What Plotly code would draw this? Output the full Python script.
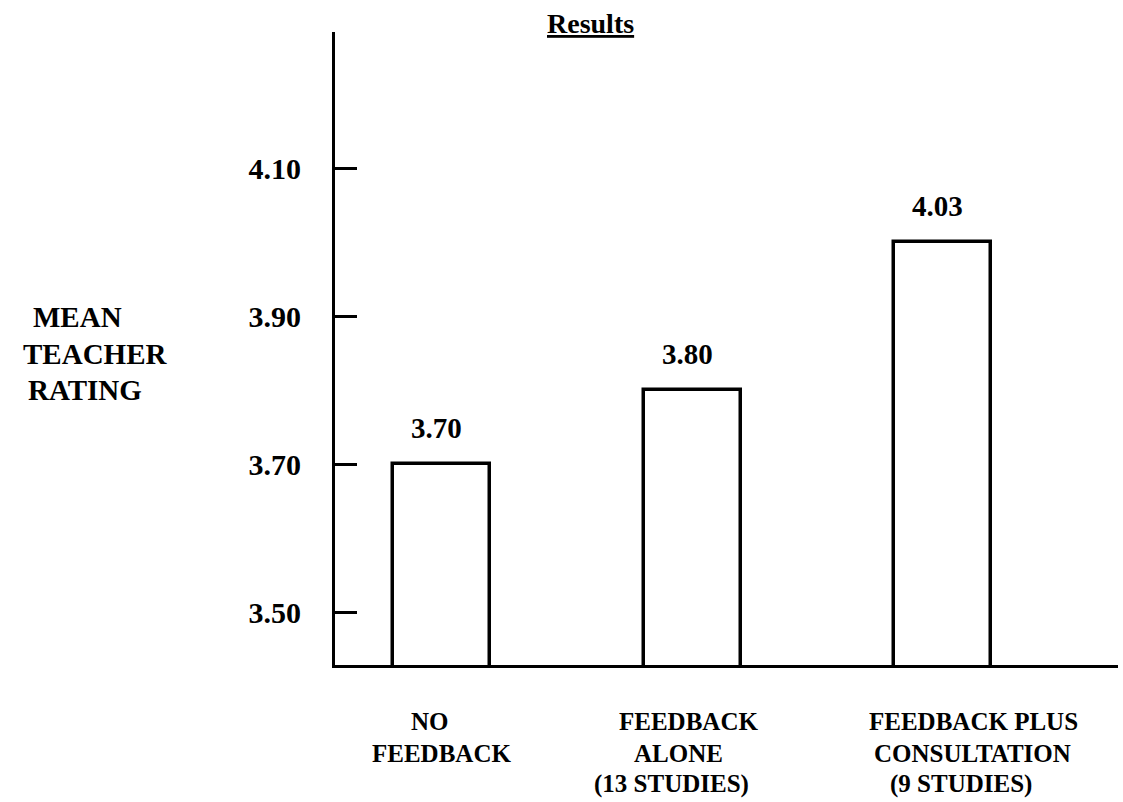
import plotly.graph_objects as go

# ---- data ----
categories = ["NO FEEDBACK", "FEEDBACK ALONE (13 STUDIES)", "FEEDBACK PLUS CONSULTATION (9 STUDIES)"]
bar_heights = [3.70, 3.80, 4.00]          # drawn bar heights
bar_labels = ["3.70", "3.80", "4.03"]     # printed value labels
category_lines = [["NO", "FEEDBACK"],
                  ["FEEDBACK", "ALONE", "(13 STUDIES)"],
                  ["FEEDBACK PLUS", "CONSULTATION", "(9 STUDIES)"]]
y_ticks = [3.50, 3.70, 3.90, 4.10]
y_tick_labels = ["3.50", "3.70", "3.90", "4.10"]
y_title_lines = ["MEAN", "TEACHER", "RATING"]
title_text = "Results"

FONT = "Liberation Serif, Times New Roman, Times, DejaVu Serif, serif"
W, H = 1123, 802
L, R, T, B = 335, 5, 32, 137
plot_w = W - L - R

fig = go.Figure()
fig.add_trace(go.Bar(
    x=list(range(len(categories))), y=bar_heights,
    width=0.387,
    marker=dict(color="white", line=dict(color="black", width=3.5)),
    hoverinfo="skip", showlegend=False,
))

ann = []
# value labels above the bars
for i, (h, t) in enumerate(zip(bar_heights, bar_labels)):
    ann.append(dict(x=i, y=h, xref="x", yref="y", text=f"<b>{t}</b>", showarrow=False,
                    yanchor="bottom", yshift=18, xshift=-5,
                    font=dict(family=FONT, size=29, color="black")))

# category labels below the axis
line_xshift = [[-12, 0], [-4, -14, -21], [31, 30, 18]]
line_dy = [56, 88, 119]
for i, lines in enumerate(category_lines):
    for j, ln in enumerate(lines):
        ann.append(dict(x=i, y=0, xref="x", yref="paper", text=f"<b>{ln}</b>", showarrow=False,
                        xanchor="center", yanchor="middle", yshift=-line_dy[j], xshift=line_xshift[i][j],
                        font=dict(family=FONT, size=25, color="black")))

# y-axis title (three lines)
yt_px = [(77, 317), (95, 354), (85, 390)]
for ln, (px, py) in zip(y_title_lines, yt_px):
    ann.append(dict(x=(px - L) / plot_w, y=1 - (py - T) / (H - T - B), xref="paper", yref="paper",
                    text=f"<b>{ln}</b>", showarrow=False, xanchor="center", yanchor="middle",
                    font=dict(family=FONT, size=29, color="black")))

# title
ann.append(dict(x=(590 - L) / plot_w, y=1, xref="paper", yref="paper",
                text=f"<u><b>{title_text}</b></u>", showarrow=False, xanchor="center", yanchor="middle",
                yshift=(T - 23), font=dict(family=FONT, size=28, color="black")))

fig.update_layout(
    width=W, height=H, autosize=False,
    margin=dict(l=L, r=R, t=T, b=B),
    paper_bgcolor="white", plot_bgcolor="white",
    font=dict(family=FONT, color="black"),
    annotations=ann,
    xaxis=dict(range=[-0.427, 2.699], showgrid=False, zeroline=False, showticklabels=False,
               ticks="", showline=True, linecolor="black", linewidth=3),
    yaxis=dict(range=[3.429, 4.284], showgrid=False, zeroline=False,
               tickvals=y_ticks, ticktext=[f"<b>{t}</b>" for t in y_tick_labels],
               ticks="inside", ticklen=22, tickwidth=3, tickcolor="black",
               ticklabelstandoff=25,
               tickfont=dict(family=FONT, size=30, color="black"),
               showline=True, linecolor="black", linewidth=3),
    bargap=0,
)

fig.write_html("out.html", config={"displayModeBar": False},
               post_script="document.body.style.margin='0px';document.body.style.overflow='hidden';")
